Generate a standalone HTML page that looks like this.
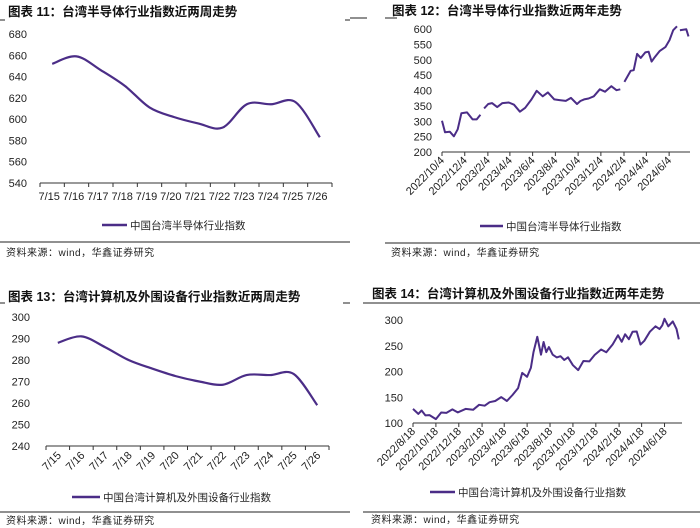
<!DOCTYPE html>
<html><head><meta charset="utf-8">
<style>
html,body{margin:0;padding:0;background:#fff;}
svg{display:block;font-family:"Liberation Sans","Noto Sans CJK SC",sans-serif;}
.t{font-size:12.5px;font-weight:bold;fill:#111;}
.tk{font-size:11px;fill:#222;}
.lg{font-size:10.5px;fill:#222;}
.src{font-size:10px;fill:#222;letter-spacing:0.5px;}
</style></head><body>
<svg id="c" width="700" height="528" viewBox="0 0 700 528"></svg>
<script>
// ---- Panel 1 data (two-week semiconductor)
const cats1 = ["7/15","7/16","7/17","7/18","7/19","7/20","7/21","7/22","7/23","7/24","7/25","7/26"];
const vals1 = [652,659,646,631,611,602,596,592,614,614,616,583];
const ticks1 = [540,560,580,600,620,640,660,680];
// ---- Panel 3 data (two-week computer)
const cats3 = ["7/15","7/16","7/17","7/18","7/19","7/20","7/21","7/22","7/23","7/24","7/25","7/26"];
const vals3 = [288,291,286,280,276,272.5,270,268.5,273,273,273.5,259];
const ticks3 = [240,250,260,270,280,290,300];
// ---- Panel 2 data (two-year semiconductor)
const dates2 = ["2022-10-04","2022-10-12","2022-10-25","2022-11-05","2022-11-15","2022-11-25","2022-12-10","2022-12-25","2023-01-05","2023-01-15","2023-01-25","2023-02-05","2023-02-15","2023-03-01","2023-03-15","2023-04-01","2023-04-15","2023-05-01","2023-05-15","2023-06-01","2023-06-15","2023-07-01","2023-07-15","2023-08-01","2023-08-15","2023-09-01","2023-09-15","2023-10-01","2023-10-10","2023-10-20","2023-11-01","2023-11-15","2023-12-01","2023-12-15","2024-01-01","2024-01-15","2024-01-25","2024-02-05","2024-02-22","2024-03-01","2024-03-10","2024-03-20","2024-04-01","2024-04-10","2024-04-18","2024-04-25","2024-05-10","2024-05-25","2024-06-05","2024-06-15","2024-06-25","2024-07-03","2024-07-20","2024-07-26"];
const vals2 = [298,268,262,255,270,330,325,310,302,325,338,360,355,350,355,365,350,335,340,375,395,385,390,375,365,370,372,360,362,375,370,385,400,400,410,405,400,432,460,470,515,510,520,530,490,510,525,545,560,600,605,600,595,580];
const gaps2 = ["2023-01-25","2024-02-05","2024-07-03"];
const ticks2 = [200,250,300,350,400,450,500,550,600];
const xl2 = ["2022/10/4","2022/12/4","2023/2/4","2023/4/4","2023/6/4","2023/8/4","2023/10/4","2023/12/4","2024/2/4","2024/4/4","2024/6/4"];
// ---- Panel 4 data (two-year computer)
const dates4 = ["2022-08-18","2022-09-01","2022-09-10","2022-09-20","2022-10-01","2022-10-18","2022-11-01","2022-11-15","2022-12-01","2022-12-15","2023-01-05","2023-01-25","2023-02-10","2023-02-25","2023-03-10","2023-03-25","2023-04-10","2023-04-25","2023-05-10","2023-05-25","2023-06-05","2023-06-18","2023-06-28","2023-07-05","2023-07-15","2023-07-25","2023-08-01","2023-08-08","2023-08-15","2023-08-25","2023-09-05","2023-09-15","2023-09-25","2023-10-05","2023-10-18","2023-11-01","2023-11-15","2023-12-01","2023-12-15","2024-01-01","2024-01-15","2024-02-01","2024-02-15","2024-02-25","2024-03-05","2024-03-15","2024-03-25","2024-04-05","2024-04-15","2024-04-25","2024-05-10","2024-05-25","2024-06-05","2024-06-12","2024-06-18","2024-06-28","2024-07-10","2024-07-20","2024-07-26"];
const vals4 = [125,120,122,117,113,110,118,122,124,123,125,128,133,136,138,145,148,145,152,170,195,192,205,240,265,235,255,240,245,235,225,232,220,230,210,205,218,222,230,245,235,255,268,260,270,265,275,280,250,262,275,290,280,292,300,290,295,285,260];
const ticks4 = [100,150,200,250,300];
const xl4 = ["2022/8/18","2022/10/18","2022/12/18","2023/2/18","2023/4/18","2023/6/18","2023/8/18","2023/10/18","2023/12/18","2024/2/18","2024/4/18","2024/6/18"];

const NS="http://www.w3.org/2000/svg";
const svg=document.getElementById('c');
const COL="#4b2d87";
function el(tag,attrs,parent){const e=document.createElementNS(NS,tag);for(const k in attrs)e.setAttribute(k,attrs[k]);(parent||svg).appendChild(e);return e;}
function txt(x,y,s,cls,anchor,parent,rot){const e=el('text',{x:x,y:y,class:cls,'text-anchor':anchor||'start'},parent);if(rot)e.setAttribute('transform','rotate('+rot+' '+x+' '+y+')');e.textContent=s;return e;}
function day(s){return Date.parse(s)/86400000;}
function smooth(pts){let d='M'+pts[0][0]+','+pts[0][1];for(let i=0;i<pts.length-1;i++){const p0=pts[i-1]||pts[i],p1=pts[i],p2=pts[i+1],p3=pts[i+2]||p2;const c1=[p1[0]+(p2[0]-p0[0])/6,p1[1]+(p2[1]-p0[1])/6],c2=[p2[0]-(p3[0]-p1[0])/6,p2[1]-(p3[1]-p1[1])/6];d+=' C'+c1[0]+','+c1[1]+' '+c2[0]+','+c2[1]+' '+p2[0]+','+p2[1];}return d;}

// Titles & rules & sources
function frame(g,tx,ty,title,rules,srcY,srcX,srcRule){
  const t=txt(tx,ty,title,'t','start',g);
  
  
  rules.forEach(r=>{const l=el('line',{x1:r[0],x2:r[1],y1:r[2],y2:r[2],stroke:'#222','stroke-width':1},g);
    
    });
  const sr=el('line',{x1:srcRule[0],x2:srcRule[1],y1:srcRule[2],y2:srcRule[2],stroke:'#222','stroke-width':1},g);
  
  
  const s=txt(srcX,srcY,'资料来源：wind，华鑫证券研究','src','start',g);
  
  
}
function legend(g,x1,x2,y,label){
  const l=el('line',{x1:x1,x2:x2,y1:y,y2:y,stroke:COL,'stroke-width':2.5},g);
  
  
  const t=txt(x2+3,y+4,label,'lg','start',g);
  
  
}
function yaxis(g,ticks,yf,xr){ticks.forEach(v=>{const t=txt(xr,yf(v)+4,String(v),'tk','end',g);
  
  });}

// Category chart
function catChart(name,cats,vals,ticks,box,rotLabels){
  const g=el('g',{});
  
  
  const [x0,x1,yTop,yBot,ymin,ymax,labX]=box;
  const yf=v=>yBot-(v-ymin)/(ymax-ymin)*(yBot-yTop);
  const w=(x1-x0)/cats.length;
  const xf=i=>x0+w*(i+0.5);
  yaxis(g,ticks,yf,labX);
  const ax=el('line',{x1:x0,x2:x1,y1:yBot,y2:yBot,stroke:'#333','stroke-width':1},g);
  
  
  for(let i=0;i<=cats.length;i++){const tk=el('line',{x1:x0+w*i,x2:x0+w*i,y1:yBot,y2:yBot+4,stroke:'#333'},g);
    
    }
  cats.forEach((c,i)=>{let t;
    if(rotLabels) t=txt(xf(i)+4,yBot+10,c,'tk','end',g,-45);
    else t=txt(xf(i)-3,yBot+17,c,'tk','middle',g);
    
    });
  const pts=vals.map((v,i)=>[xf(i),yf(v)]);
  const p=el('path',{d:smooth(pts),fill:'none',stroke:COL,'stroke-width':2.2},g);
  
  
  return g;
}
// Time chart
function timeChart(name,dates,vals,gaps,ticks,xl,box){
  const g=el('g',{});
  
  
  const [x0,x1,yTop,yBot,ymin,ymax,labX,d0,pxPerDay]=box;
  const yf=v=>yBot-(v-ymin)/(ymax-ymin)*(yBot-yTop);
  const xf=d=>x0+(day(d)-day(d0))*pxPerDay;
  yaxis(g,ticks,yf,labX);
  const ax=el('line',{x1:x0,x2:x1,y1:yBot,y2:yBot,stroke:'#333','stroke-width':1},g);
  
  
  xl.forEach(s=>{const x=xf(s.replace(/\//g,'-').replace(/-(\d)(?=-|$)/g,'-0$1'));
    const tk=el('line',{x1:x,x2:x,y1:yBot,y2:yBot+4,stroke:'#333'},g);
    
    
    const t=txt(x+3,yBot+9,s,'tk','end',g,-45);
    
    });
  let d='';
  dates.forEach((s,i)=>{const x=xf(s),y=yf(vals[i]);
    const jit=(i%2?1:-1)*1.2;
    d+=(i===0||gaps.includes(s)?'M':'L')+x.toFixed(1)+','+(y+jit).toFixed(1)+' ';});
  const p=el('path',{d:d,fill:'none',stroke:COL,'stroke-width':2,'stroke-linejoin':'round'},g);
  
  
  return g;
}

// Panel 1
const g1=catChart('chart-semiconductor-two-weeks',cats1,vals1,ticks1,[40,332,34,183,540,680,27],false);
frame(g1,8,16,'图表 11：台湾半导体行业指数近两周走势',[[0,5,20],[345,350,20]],256,6,[0,350,242]);
legend(g1,102,127,225,'中国台湾半导体行业指数');
// Panel 2
const g2=timeChart('chart-semiconductor-two-years',dates2,vals2,gaps2,ticks2,xl2,[442,690,29,152,200,600,432,'2022-10-04',22.75/61]);
frame(g2,392,15,'图表 12：台湾半导体行业指数近两年走势',[[350,367,18],[385,397,18]],256,391,[385,700,243]);
legend(g2,480,503,226,'中国台湾半导体行业指数');
// Panel 3
const g3=catChart('chart-computer-two-weeks',cats3,vals3,ticks3,[46,329,317,446,240,300,30],true);
frame(g3,8,301,'图表 13：台湾计算机及外围设备行业指数近两周走势',[[0,5,303],[343,350,303]],524,6,[0,350,512]);
legend(g3,72,100,497,'中国台湾计算机及外围设备行业指数');
// Panel 4
const g4=timeChart('chart-computer-two-years',dates4,vals4,[],ticks4,xl4,[413,682,320,423,100,300,403,'2022-08-18',22.9/61]);
frame(g4,372,298,'图表 14：台湾计算机及外围设备行业指数近两年走势',[[363,700,303]],523,371,[363,700,512]);
legend(g4,430,455,492,'中国台湾计算机及外围设备行业指数');
</script>
</body></html>
